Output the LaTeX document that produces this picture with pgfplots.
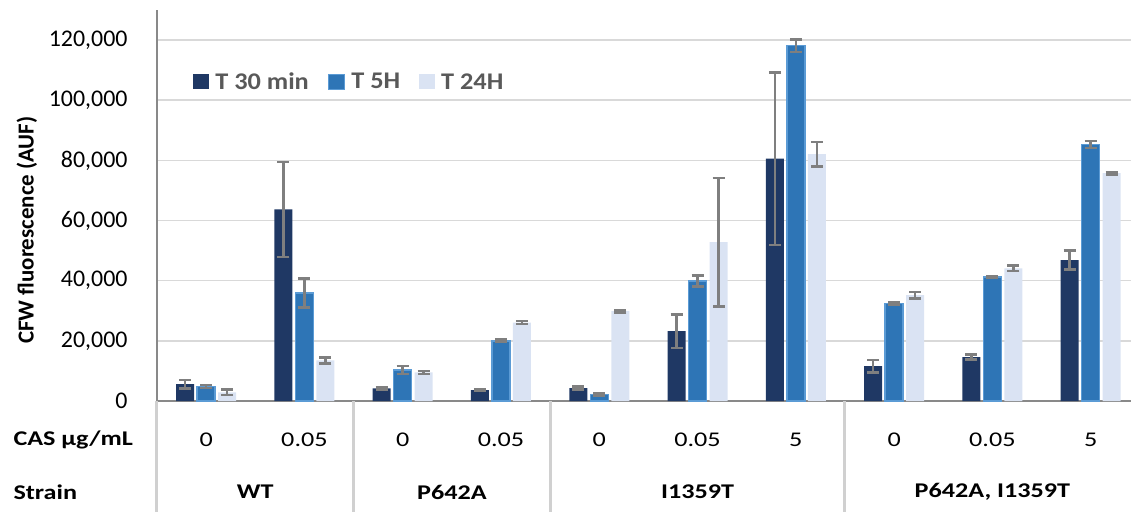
\documentclass[border=0pt]{standalone}
\usepackage{pgfplots}
\pgfplotsset{compat=1.18}
\usepackage{pgfplotstable}
\usepackage{fontspec}
\setmainfont{Carlito}
\newfontfamily\widefont[FakeStretch=1.25]{Carlito}
\newfontfamily\legfont[FakeStretch=1.1]{Carlito}

\definecolor{cdark}{HTML}{1F3864}
\definecolor{cmid}{HTML}{2E75B6}
\definecolor{cmidedge}{HTML}{5B9BD5}
\definecolor{clight}{HTML}{DAE3F3}
\definecolor{errgray}{HTML}{7F7F7F}
\definecolor{axisgray}{HTML}{898989}
\definecolor{gridgray}{HTML}{D9D9D9}
\definecolor{sepgray}{HTML}{D0D0D0}
\definecolor{legendgray}{HTML}{595959}

% x: category index, y: mean, e: error
\pgfplotstableread{
x y e
0 5600 1400
1 63700 15800
2 4200 300
3 3650 400
4 4300 500
5 23250 5550
6 80600 28700
7 11600 2050
8 14600 800
9 46850 3200
}\tthirty
\pgfplotstableread{
x y e
0 4900 500
1 35900 4750
2 10300 1400
3 20000 400
4 2200 400
5 39900 1800
6 118150 2100
7 32450 300
8 41300 300
9 85250 1200
}\tfive
\pgfplotstableread{
x y e
0 2900 900
1 13500 1000
2 9500 550
3 26100 500
4 29900 400
5 52800 21300
6 82050 4100
7 35200 1050
8 44100 900
9 75750 400
}\ttwentyfour

\pgfplotsset{
  errstyle/.style={
    error bars/.cd, y dir=both, y explicit,
    error bar style={line width=2.5bp, color=errgray},
    error mark options={rotate=90, mark size=6bp, line width=2.5bp, color=errgray}
  }
}

\begin{document}
\begin{tikzpicture}
\begin{axis}[
  scale only axis, width=974bp, height=391bp,
  xmin=-0.5, xmax=9.41, ymin=0, ymax=130000,
  clip=false,
  axis x line=bottom, axis y line=left,
  axis line style={-, draw=axisgray, line width=1.5bp},
  ybar=3bp, bar width=18bp,
  ymajorgrids, major grid style={draw=gridgray, line width=1.5bp},
  ytick={0,20000,40000,60000,80000,100000,120000},
  scaled y ticks=false,
  yticklabel style={font=\fontsize{24}{24}\selectfont, text=black, xshift=-26bp,
    /pgf/number format/.cd, fixed, 1000 sep={,}, assume math mode=true},
  xtick={0,...,9},
  xticklabels={0,0.05,0,0.05,0,0.05,5,0,0.05,5},
  xticklabel style={font=\widefont\fontsize{21}{21}\selectfont, anchor=center, yshift=-39bp},
  major tick length=0pt,
  extra x ticks={-0.5,1.5,3.5,6.5},
  extra x tick labels={},
  extra x tick style={major tick length=111bp, tick align=outside, xmajorgrids=false,
    tick style={draw=sepgray, line width=3bp}},
  ylabel={CFW fluorescence (AUF)},
  ylabel style={font=\bfseries\fontsize{23}{23}\selectfont, at={(axis description cs:-0.1335,0.437)}, anchor=center},
  legend columns=3,
  legend style={at={(axis description cs:0.034,0.816)}, anchor=west, draw=none, fill=none,
    font=\legfont\bfseries\fontsize{24}{24}\selectfont, text=legendgray,
    /tikz/every odd column/.append style={column sep=4bp},
    /tikz/every even column/.append style={column sep=17bp}},
  legend image code/.code={\path[#1] (0bp,-7.5bp) rectangle (16bp,7.5bp);},
]
\addplot[fill=cdark, draw=none, errstyle] table[x=x, y=y, y error=e] {\tthirty};
\addplot[fill=cmid, draw=cmidedge, line width=1.5bp, errstyle] table[x=x, y=y, y error=e] {\tfive};
\addplot[fill=clight, draw=none, errstyle] table[x=x, y=y, y error=e] {\ttwentyfour};
\legend{T 30 min, T 5H, T 24H}

\node[anchor=west, font=\widefont\bfseries\fontsize{21}{21}\selectfont] at (axis cs:-0.5,0) [xshift=-147bp, yshift=-39bp] {CAS µg/mL};
\node[anchor=west, font=\widefont\bfseries\fontsize{21}{21}\selectfont] at (axis cs:-0.5,0) [xshift=-147bp, yshift=-91bp] {Strain};
\node[font=\widefont\bfseries\fontsize{21}{21}\selectfont] at (axis cs:0.5,0) [yshift=-91bp] {WT};
\node[font=\widefont\bfseries\fontsize{21}{21}\selectfont] at (axis cs:2.5,0) [yshift=-91bp] {P642A};
\node[font=\widefont\bfseries\fontsize{21}{21}\selectfont] at (axis cs:5,0) [yshift=-91bp] {I1359T};
\node[font=\widefont\bfseries\fontsize{21}{21}\selectfont] at (axis cs:8,0) [yshift=-91bp] {P642A, I1359T};
\end{axis}
\pgfresetboundingbox
\path[use as bounding box] ([xshift=-157bp,yshift=-111bp]current axis.south west) rectangle ([yshift=10bp]current axis.north east);
\end{tikzpicture}
\end{document}
